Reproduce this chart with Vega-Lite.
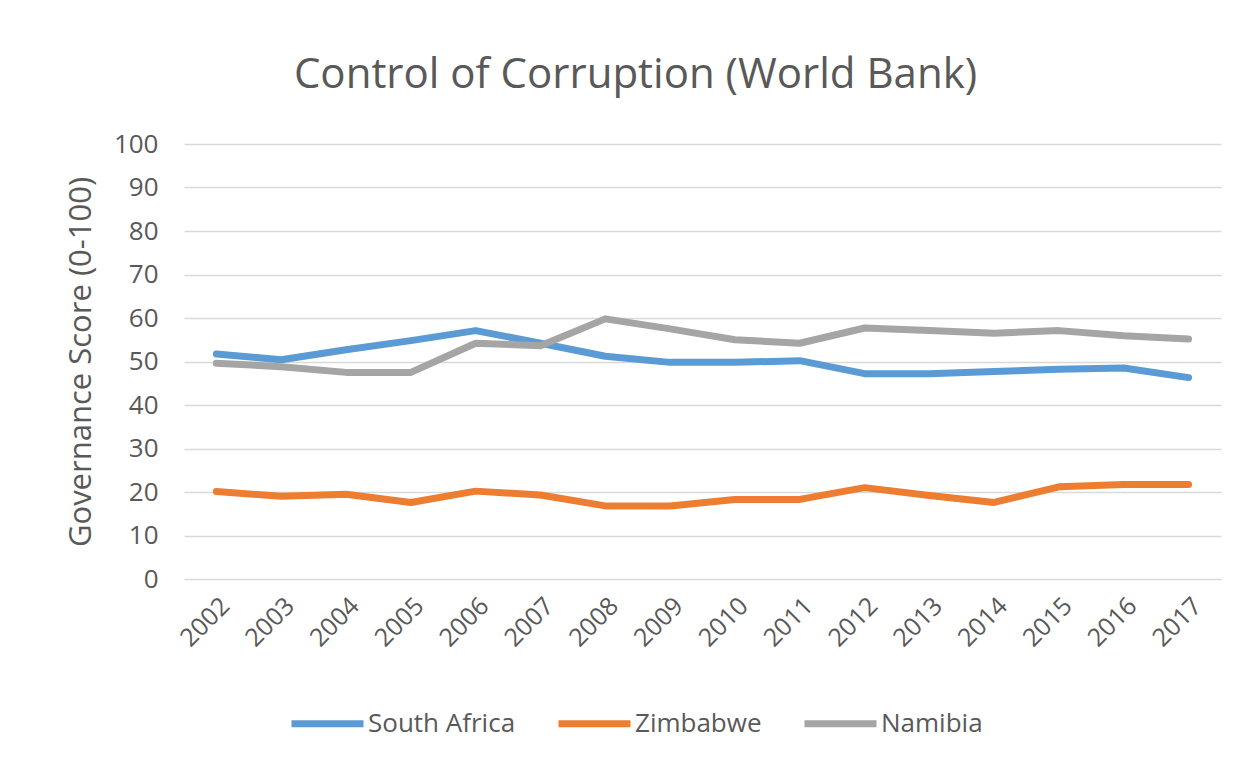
{
  "$schema": "https://vega.github.io/schema/vega-lite/v6.json",
  "width": 1037,
  "height": 435,
  "autosize": "none",
  "padding": {"left": 184, "top": 144, "right": 30, "bottom": 188},
  "background": "white",
  "title": {
    "text": "Control of Corruption (World Bank)",
    "font": "Open Sans",
    "fontSize": 42,
    "fontWeight": "normal",
    "color": "#595959",
    "anchor": "middle",
    "dx": -67,
    "offset": 34
  },
  "data": {
    "values": [
      {"year": "2002", "country": "South Africa", "score": 51.7},
      {"year": "2003", "country": "South Africa", "score": 50.4},
      {"year": "2004", "country": "South Africa", "score": 52.7},
      {"year": "2005", "country": "South Africa", "score": 54.8},
      {"year": "2006", "country": "South Africa", "score": 57.1},
      {"year": "2007", "country": "South Africa", "score": 54.2},
      {"year": "2008", "country": "South Africa", "score": 51.2},
      {"year": "2009", "country": "South Africa", "score": 49.8},
      {"year": "2010", "country": "South Africa", "score": 49.8},
      {"year": "2011", "country": "South Africa", "score": 50.2},
      {"year": "2012", "country": "South Africa", "score": 47.2},
      {"year": "2013", "country": "South Africa", "score": 47.2},
      {"year": "2014", "country": "South Africa", "score": 47.7},
      {"year": "2015", "country": "South Africa", "score": 48.2},
      {"year": "2016", "country": "South Africa", "score": 48.5},
      {"year": "2017", "country": "South Africa", "score": 46.3},
      {"year": "2002", "country": "Zimbabwe", "score": 20.1},
      {"year": "2003", "country": "Zimbabwe", "score": 19.0},
      {"year": "2004", "country": "Zimbabwe", "score": 19.5},
      {"year": "2005", "country": "Zimbabwe", "score": 17.6},
      {"year": "2006", "country": "Zimbabwe", "score": 20.2},
      {"year": "2007", "country": "Zimbabwe", "score": 19.3},
      {"year": "2008", "country": "Zimbabwe", "score": 16.8},
      {"year": "2009", "country": "Zimbabwe", "score": 16.8},
      {"year": "2010", "country": "Zimbabwe", "score": 18.3},
      {"year": "2011", "country": "Zimbabwe", "score": 18.3},
      {"year": "2012", "country": "Zimbabwe", "score": 21.0},
      {"year": "2013", "country": "Zimbabwe", "score": 19.2},
      {"year": "2014", "country": "Zimbabwe", "score": 17.6},
      {"year": "2015", "country": "Zimbabwe", "score": 21.2},
      {"year": "2016", "country": "Zimbabwe", "score": 21.7},
      {"year": "2017", "country": "Zimbabwe", "score": 21.7},
      {"year": "2002", "country": "Namibia", "score": 49.6},
      {"year": "2003", "country": "Namibia", "score": 48.8},
      {"year": "2004", "country": "Namibia", "score": 47.5},
      {"year": "2005", "country": "Namibia", "score": 47.5},
      {"year": "2006", "country": "Namibia", "score": 54.2},
      {"year": "2007", "country": "Namibia", "score": 53.6},
      {"year": "2008", "country": "Namibia", "score": 59.8},
      {"year": "2009", "country": "Namibia", "score": 57.5},
      {"year": "2010", "country": "Namibia", "score": 55.0},
      {"year": "2011", "country": "Namibia", "score": 54.2},
      {"year": "2012", "country": "Namibia", "score": 57.7},
      {"year": "2013", "country": "Namibia", "score": 57.1},
      {"year": "2014", "country": "Namibia", "score": 56.5},
      {"year": "2015", "country": "Namibia", "score": 57.1},
      {"year": "2016", "country": "Namibia", "score": 55.9},
      {"year": "2017", "country": "Namibia", "score": 55.2}
    ]
  },
  "mark": {"type": "line", "strokeWidth": 7, "strokeCap": "round", "strokeJoin": "round"},
  "encoding": {
    "x": {
      "field": "year",
      "type": "ordinal",
      "scale": {"type": "point", "padding": 0.5},
      "axis": {
        "title": null,
        "labelAngle": -45,
        "labelFont": "Open Sans",
        "labelFontSize": 25,
        "labelColor": "#595959",
        "labelPadding": 14,
        "ticks": false,
        "domain": false,
        "grid": false
      }
    },
    "y": {
      "field": "score",
      "type": "quantitative",
      "scale": {"domain": [0, 100], "nice": false},
      "axis": {
        "title": "Governance Score (0-100)",
        "titleFont": "Open Sans",
        "titleFontSize": 31,
        "titleFontWeight": "normal",
        "titleColor": "#595959",
        "titlePadding": 16,
        "values": [0, 10, 20, 30, 40, 50, 60, 70, 80, 90, 100],
        "labelFont": "Open Sans",
        "labelFontSize": 26,
        "labelColor": "#595959",
        "labelPadding": 26,
        "ticks": false,
        "domain": false,
        "grid": true,
        "gridColor": "#D9D9D9",
        "gridWidth": 1.5
      }
    },
    "color": {
      "field": "country",
      "type": "nominal",
      "sort": ["South Africa", "Zimbabwe", "Namibia"],
      "scale": {"domain": ["South Africa", "Zimbabwe", "Namibia"], "range": ["#5B9BD5", "#ED7D31", "#A5A5A5"]},
      "legend": {
        "title": null,
        "orient": "none",
        "direction": "horizontal",
        "legendX": 104,
        "legendY": 540,
        "symbolType": "stroke",
        "symbolSize": 5184,
        "symbolStrokeWidth": 7,
        "labelFont": "Open Sans",
        "labelFontSize": 26,
        "labelColor": "#595959",
        "labelOffset": 1,
        "columnPadding": 28
      }
    }
  },
  "config": {"view": {"stroke": null}}
}
